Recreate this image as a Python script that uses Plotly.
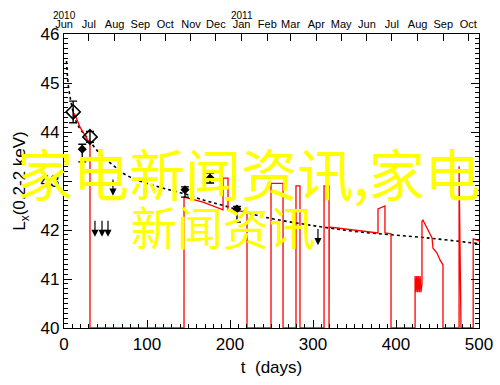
import plotly.graph_objects as go

# ---------------- data ----------------
# model light curve (red); drops to 40 mark gaps
red_t = [11, 13.3, 19.3, 25.3, 29, 31.3, 31.3,
         144.6, 144.6, 167.5, 191.6, 191.6, 197.6, 197.6, 220.5, 220.5,
         249.4, 249.4, 263.9, 263.9,
         279.5, 279.5, 284.3, 284.3,
         313.3, 313.3, 319.3, 319.3, 319.6, 378.3, 378.3, 386.7, 386.7, 394.0, 394.0,
         423.0, 423.0, 424.0, 425.0, 426.0, 427.0, 428.0, 429.0, 430.0, 431.3, 431.3,
         432.5, 437.3, 443.4, 444.6, 449.4, 453.0, 456.6, 456.6,
         476.0, 476.0, 478.3, 478.3,
         493.0, 493.0, 500.0]
red_L = [44.40, 44.35, 44.10, 43.94, 43.84, 43.76, 40.0,
         40.0, 42.67, 42.57, 42.41, 43.06, 43.06, 42.41, 42.37, 40.0,
         40.0, 42.95, 42.95, 40.0,
         40.0, 42.9, 42.9, 40.0,
         40.0, 42.9, 42.9, 40.0, 42.06, 41.94, 42.43, 42.49, 41.94, 41.92, 40.0,
         40.0, 41.06, 40.73, 41.06, 40.73, 41.06, 40.73, 41.06, 40.73, 40.9, 42.18,
         42.20, 42.04, 41.84, 41.63, 41.53, 41.39, 41.29, 40.0,
         40.0, 43.3, 40.63, 40.0,
         40.0, 41.82, 41.78]

# power-law decline (black dotted)
pl_t = [3, 5, 8, 11, 15, 20, 29, 40, 50, 60, 70, 88, 116, 143, 170, 192,
        228, 248, 296, 357, 437, 500]
pl_L = [45.45, 44.98, 44.65, 44.41, 44.20, 44.05, 43.86, 43.62, 43.45, 43.31,
        43.17, 43.02, 42.87, 42.75, 42.60, 42.50, 42.32, 42.24, 42.10, 41.96,
        41.84, 41.72]

# detections: open diamonds
open_t = [11, 31.3]
open_L = [44.41, 43.90]
open_err = [0.22, 0.11]

# detections: small filled diamonds
fill_t = [22, 145.8, 176, 208.4]
fill_L = [43.65, 42.82, 43.06, 42.43]
fill_errp = [0.10, 0.06, 0.10, 0.05]
fill_errm = [0.26, 0.15, 0.10, 0.27]

# upper limits (down arrows)
ul_t = [37.3, 45.8, 53.0, 59.0, 306.0]
ul_L = [42.22, 42.22, 42.22, 43.06, 42.05]
ul_len = 0.36

# top axis: months since 2010 Jun 1
month_days = [0, 30, 61, 92, 122, 153, 183, 214, 245, 273, 304, 334, 365,
              395, 426, 457, 487]
month_names = ["Jun", "Jul", "Aug", "Sep", "Oct", "Nov", "Dec", "Jan", "Feb",
               "Mar", "Apr", "May", "Jun", "Jul", "Aug", "Sep", "Oct"]
year_days = [0, 214]
year_names = ["2010", "2011"]

overlay_line1 = "家电新闻资讯,家电"
overlay_line2 = "新闻资讯"

# ---------------- figure ----------------
FONT = "Liberation Sans, Arial, sans-serif"
fig = go.Figure()

fig.add_trace(go.Scatter(x=pl_t, y=pl_L, mode="lines",
                         line=dict(color="black", width=1.6, dash="dot"),
                         line_shape="spline", hoverinfo="skip"))
fig.add_trace(go.Scatter(x=red_t, y=red_L, mode="lines",
                         line=dict(color="#ff0000", width=1.3),
                         hoverinfo="skip"))
fig.add_trace(go.Scatter(x=open_t, y=open_L, mode="markers",
                         marker=dict(symbol="diamond-open", size=11,
                                     color="black", line=dict(width=1.6)),
                         error_y=dict(type="data", array=open_err, color="black",
                                      thickness=1.4, width=4)))
fig.add_trace(go.Scatter(x=fill_t, y=fill_L, mode="markers",
                         marker=dict(symbol="diamond", size=7, color="black"),
                         error_y=dict(type="data", array=fill_errp,
                                      arrayminus=fill_errm, color="black",
                                      thickness=1.4, width=4)))
# invisible trace on the top axis so it is drawn
fig.add_trace(go.Scatter(x=[0, 500], y=[40, 40], xaxis="x2", mode="markers",
                         marker=dict(opacity=0), hoverinfo="skip"))

annotations = []
for t, L in zip(ul_t, ul_L):
    annotations.append(dict(x=t, y=L - ul_len, ax=t, ay=L, xref="x", yref="y",
                            axref="x", ayref="y", showarrow=True, arrowhead=2,
                            arrowsize=1.2, arrowwidth=1.2, arrowcolor="black",
                            text=""))
for d, name in zip(year_days, year_names):
    annotations.append(dict(x=d, y=1.063, xref="x", yref="paper", text=name,
                            showarrow=False, yanchor="middle",
                            font=dict(family=FONT, size=10, color="black")))
annotations.append(dict(x=0.446, y=0.534, xref="paper", yref="paper",
                        text=overlay_line1, showarrow=False,
                        font=dict(family="Noto Sans CJK SC", size=56,
                                  color="#ffff00")))
annotations.append(dict(x=0.383, y=0.350, xref="paper", yref="paper",
                        text=overlay_line2, showarrow=False,
                        font=dict(family="Noto Sans CJK SC", size=46,
                                  color="#ffff00")))

fig.update_layout(
    width=500, height=385,
    margin=dict(l=64, r=21, t=34, b=57, autoexpand=False),
    paper_bgcolor="white", plot_bgcolor="white",
    showlegend=False,
    font=dict(family=FONT, color="black", size=17),
    annotations=annotations,
    xaxis=dict(range=[0, 500], tickvals=[0, 100, 200, 300, 400, 500],
               automargin=False,
               ticks="inside", ticklen=8, tickwidth=1.2, tickcolor="black",
               showline=True, linecolor="black", linewidth=1.4,
               showgrid=False, zeroline=False,
               minor=dict(dtick=10, ticks="inside", ticklen=4,
                          tickcolor="black", tickwidth=1, showgrid=False),
               tickfont=dict(size=17),
               title=dict(text="t  (days)", font=dict(size=17), standoff=8)),
    xaxis2=dict(range=[0, 500], overlaying="x", side="top", automargin=False,
                tickvals=month_days, ticktext=month_names,
                ticks="inside", ticklen=7, tickwidth=1.2, tickcolor="black",
                showline=True, linecolor="black", linewidth=1.4,
                showgrid=False, zeroline=False,
                tickfont=dict(size=11)),
    yaxis=dict(range=[40, 46], dtick=1, ticks="inside", ticklen=8,
               automargin=False,
               tickwidth=1.2, tickcolor="black",
               showline=True, linecolor="black", linewidth=1.4,
               mirror="ticks", showgrid=False, zeroline=False,
               minor=dict(dtick=0.1, ticks="inside", ticklen=4,
                          tickcolor="black", tickwidth=1, showgrid=False),
               tickfont=dict(size=17),
               title=dict(text="L<sub>x</sub>(0.2-2 keV)", font=dict(size=17),
                          standoff=10)),
)

fig.write_html("out.html",
               config={"displayModeBar": False},
               post_script="document.body.style.margin='0';"
                           "document.body.style.overflow='hidden';")
